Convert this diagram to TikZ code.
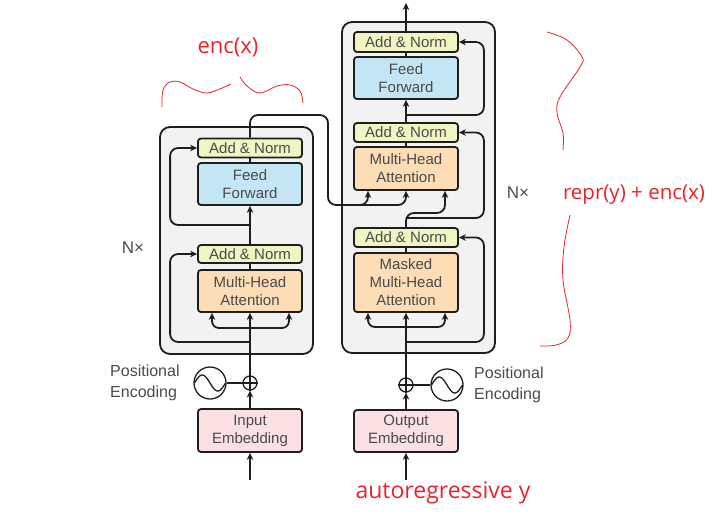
\documentclass[tikz,border=0pt]{standalone}
\usepackage{fontspec}
\setmainfont{Liberation Sans}
\newfontfamily\redfont{Open Sans}
\usetikzlibrary{arrows.meta,calc}
\definecolor{txt}{HTML}{4A4A4A}
\definecolor{edge}{HTML}{1E1E1E}
\definecolor{anc}{HTML}{F1F4C3}
\definecolor{ffc}{HTML}{C4E5F4}
\definecolor{mhac}{HTML}{FCDDB6}
\definecolor{embc}{HTML}{FBE1E3}
\definecolor{blkc}{HTML}{F2F2F2}
\definecolor{redink}{HTML}{E8232B}
\begin{document}
\begin{tikzpicture}[x=1pt,y=-1pt,
  box/.style={draw=edge, line width=1.8pt, rounded corners=3pt, minimum width=104pt, inner sep=0pt, text=txt, align=center, font=\fontsize{15}{18}\selectfont},
  anbox/.style={box, fill=anc, minimum height=19pt},
  ffbox/.style={box, fill=ffc, minimum height=42pt},
  mhabox/.style={box, fill=mhac},
  embbox/.style={box, fill=embc, minimum height=43pt},
  blk/.style={draw=edge, line width=1.8pt, rounded corners=10pt, fill=blkc, minimum width=153pt, inner sep=0pt},
  arr/.style={draw=edge, line width=1.8pt, -{Stealth[length=7pt,width=6.5pt]}},
  ln/.style={draw=edge, line width=1.8pt},
  lbl/.style={text=txt, font=\fontsize{16}{21}\selectfont, align=left, inner sep=0pt},
  nlbl/.style={text=txt, font=\fontsize{17}{20}\selectfont, inner sep=0pt},
  plus/.style={circle, draw=edge, line width=1.3pt, minimum size=14pt, inner sep=0pt},
  sine/.style={circle, draw=edge, line width=1.3pt, minimum size=32pt, inner sep=0pt},
  note/.style={text=redink, inner sep=0pt},
  ink/.style={draw=redink, line width=0.8pt}]
\useasboundingbox (0,0) rectangle (715,515);

% ---------- blocks ----------
\node[blk, minimum height=227pt] (encblk) at (236.5,240.5) {};
\node[blk, minimum height=331pt] (decblk) at (418.5,187.5) {};

% ---------- encoder ----------
\node[anbox] (encANb) at (250,148) {Add \& Norm};
\node[ffbox] (encFF) at (250,184) {Feed\\Forward};
\node[anbox, minimum height=18pt] (encANa) at (250,254) {Add \& Norm};
\node[mhabox, minimum height=42pt] (encMHA) at (250,291) {Multi-Head\\Attention};
\node[embbox] (encEmb) at (250,430.5) {Input\\Embedding};
\node[plus] (encplus) at (250,383) {};
\node[sine] (encsine) at (210,383) {};
\node[lbl, anchor=west] (encPE) at (110,383) {Positional\\Encoding};
\node[nlbl] (encN) at (133,248) {N×};
\coordinate (encin) at (250,480);

% ---------- decoder ----------
\node[anbox, minimum height=20pt] (decANc) at (406,42) {Add \& Norm};
\node[ffbox] (decFF) at (406,78) {Feed\\Forward};
\node[anbox] (decANb) at (406,132.5) {Add \& Norm};
\node[mhabox, minimum height=43pt] (decMHA) at (406,168.5) {Multi-Head\\Attention};
\node[anbox] (decANa) at (406,237.5) {Add \& Norm};
\node[mhabox, minimum height=59pt] (decMMHA) at (406,282.5) {Masked\\Multi-Head\\Attention};
\node[embbox, minimum height=42pt] (decEmb) at (406,431) {Output\\Embedding};
\node[plus] (decplus) at (406,385) {};
\node[sine] (decsine) at (447,385) {};
\node[lbl, anchor=west] (decPE) at (474,385) {Positional\\Encoding};
\node[nlbl] (decN) at (518,193) {N×};
\coordinate (decin) at (406,480);
\coordinate (decout) at (406,3);

% ---------- symbols ----------
\foreach \p in {encplus, decplus}{
  \draw[edge, line width=1.3pt] (\p.north) -- (\p.south) (\p.west) -- (\p.east);
}
\foreach \s in {encsine, decsine}{
  \draw[edge, line width=1.3pt, shift={(\s.center)}] plot[domain=-15.5:15.5, samples=50, smooth] (\x,{8*sin(11.6*\x)});
}

% ---------- encoder connectors ----------
\draw[arr] (encin) -- (encEmb.south);
\draw[arr] (encEmb.north) -- (encplus.south);
\draw[ln] (encsine.east) -- (encplus.west);
\draw[arr] (encplus.north) -- (encMHA.south);
\draw[arr, rounded corners=7pt] (encMHA.south |- 0,328) -| ($(encMHA.south)+(-38,0)$);
\draw[arr, rounded corners=7pt] (encMHA.south |- 0,328) -| ($(encMHA.south)+(39,0)$);
\draw[arr, rounded corners=8pt] (encMHA.south |- 0,342) -| ($(encANa.west)+(-27,0)$) -- (encANa.west);
\draw[ln] (encMHA.north) -- (encANa.south);
\draw[arr] (encANa.north) -- (encFF.south);
\draw[arr, rounded corners=8pt] (encFF.south |- 0,225) -| ($(encANb.west)+(-27,0)$) -- (encANb.west);
\draw[ln] (encFF.north) -- (encANb.south);

% encoder output to decoder attention
\draw[arr, rounded corners=8pt] (encANb.north) |- (328,115) |- (368,205) -- ($(decMHA.south)+(-38,0)$);
\draw[arr, rounded corners=8pt] (350,205) -| (decMHA.south);

% ---------- decoder connectors ----------
\draw[arr] (decin) -- (decEmb.south);
\draw[arr] (decEmb.north) -- (decplus.south);
\draw[ln] (decplus.east) -- (decsine.west);
\draw[arr] (decplus.north) -- (decMMHA.south);
\draw[arr, rounded corners=7pt] (decMMHA.south |- 0,327) -| ($(decMMHA.south)+(-38,0)$);
\draw[arr, rounded corners=7pt] (decMMHA.south |- 0,327) -| ($(decMMHA.south)+(39,0)$);
\draw[arr, rounded corners=8pt] (decMMHA.south |- 0,342) -| ($(decANa.east)+(25,0)$) -- (decANa.east);
\draw[ln] (decMMHA.north) -- (decANa.south);
\draw[arr, rounded corners=8pt] (decANa.north) |- (445,213) -- ($(decMHA.south)+(39,0)$);
\draw[arr, rounded corners=8pt] (decANa.north |- 0,218) -| ($(decANb.east)+(25,0)$) -- (decANb.east);
\draw[ln] (decMHA.north) -- (decANb.south);
\draw[arr] (decANb.north) -- (decFF.south);
\draw[arr, rounded corners=8pt] (decFF.south |- 0,115) -| ($(decANc.east)+(25,0)$) -- (decANc.east);
\draw[ln] (decFF.north) -- (decANc.south);
\draw[arr] (decANc.north) -- (decout);

% ---------- red annotations ----------
\node[note, font=\redfont\fontsize{22}{26}\selectfont] (encx) at (228,47) {enc(x)};
\node[note, font=\redfont\fontsize{20.5}{24}\selectfont] (repr) at (634,195) {repr(y) + enc(x)};
\node[note, font=\redfont\fontsize{23}{27}\selectfont] (autoy) at (443,493) {autoregressive y};

\draw[ink] plot[smooth, tension=0.6] coordinates {(162,107) (163,90) (170,82) (180,82) (193,89) (207,93) (222,88) (231,84)};
\draw[ink] plot[smooth, tension=0.6] coordinates {(240,77) (247,86) (260,93) (277,86) (290,85) (300,91) (303,103)};
\draw[ink] plot[smooth, tension=0.6] coordinates {(547,32) (567,40) (582,57) (580,67) (560,97) (557,113) (563,133) (563,150)};
\draw[ink] plot[smooth, tension=0.6] coordinates {(570,215) (564,247) (563,280) (570,320) (568,338) (556,345) (540,346)};
\end{tikzpicture}
\end{document}
